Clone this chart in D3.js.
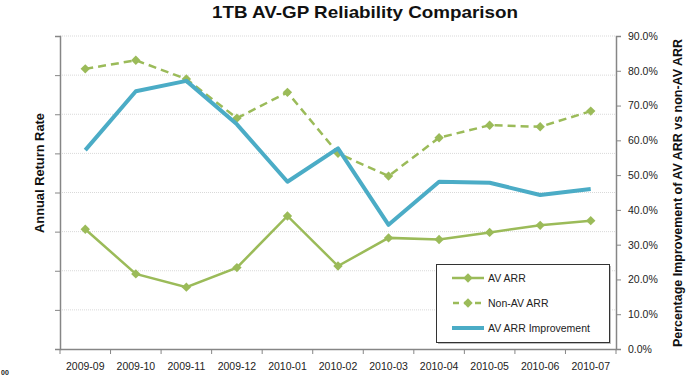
<!DOCTYPE html>
<html><head><meta charset="utf-8">
<script src="https://cdn.jsdelivr.net/npm/d3@7"></script>
<style>
body{margin:0;background:#fff;}
svg{display:block;font-family:"Liberation Sans",Arial,sans-serif;}
</style></head>
<body><svg id="c" width="690" height="377"></svg>
<script>
const categories = ["2009-09","2009-10","2009-11","2009-12","2010-01","2010-02","2010-03","2010-04","2010-05","2010-06","2010-07"];
const avArr     = [1.53,0.96,0.79,1.04,1.70,1.06,1.42,1.40,1.49,1.58,1.64];
const nonAvArr  = [3.58,3.69,3.45,2.95,3.28,2.50,2.21,2.70,2.86,2.84,3.04];
const improvement = [57.2,74.1,77.1,64.6,48.1,57.7,35.7,48.1,47.8,44.3,46.0];
const leftTicks = [0,0.5,1,1.5,2,2.5,3,3.5,4];
const rightTicks = [0,10,20,30,40,50,60,70,80,90];
const seriesNames = ["AV ARR","Non-AV ARR","AV ARR Improvement"];

const green = "#9BBB59", blue = "#4BACC6";
const svg = d3.select("#c");
const L = 60, R = 616, T = 36, B = 349;

const x = d3.scaleBand().domain(categories).range([L, R]).padding(0);
const xc = d => x(d) + x.bandwidth()/2;
const yL = d3.scaleLinear().domain([0,4]).range([B, T]);
const yR = d3.scaleLinear().domain([0,90]).range([B, T]);

// gridlines
svg.append("g").selectAll("line").data(leftTicks.slice(1)).join("line")
  .attr("x1", L).attr("x2", R).attr("y1", d=>yL(d)).attr("y2", d=>yL(d))
  .attr("stroke", "#d9d9d9").attr("stroke-width", 1).attr("stroke-dasharray", "1,1");

// left axis
const gl = svg.append("g").attr("transform", `translate(${L},0)`)
  .call(d3.axisLeft(yL).tickValues(leftTicks).tickSize(5).tickFormat(""));
gl.select(".domain").attr("stroke", "#868686").attr("stroke-width", 1.5);
gl.selectAll(".tick line").attr("stroke", "#868686");

// right axis
const gr = svg.append("g").attr("transform", `translate(${R},0)`)
  .call(d3.axisRight(yR).tickValues(rightTicks).tickSize(5).tickPadding(7).tickFormat(d => d.toFixed(1) + "%"));
gr.select(".domain").attr("stroke", "#868686").attr("stroke-width", 1.5);
gr.selectAll(".tick line").attr("stroke", "#868686");
gr.selectAll(".tick text").attr("font-size", 10.5).attr("fill", "#222").attr("font-family", "Liberation Sans, Arial, sans-serif");

// bottom axis
const gb = svg.append("g").attr("transform", `translate(0,${B})`)
  .call(d3.axisBottom(x).tickSize(0).tickPadding(14));
gb.select(".domain").attr("stroke", "#868686").attr("stroke-width", 1.5);
gb.selectAll(".tick text").attr("font-size", 10.5).attr("fill", "#222").attr("font-family", "Liberation Sans, Arial, sans-serif");
const bounds = categories.map(d => x(d)).concat([R]);
svg.append("g").selectAll("line").data(bounds).join("line")
  .attr("x1", d=>d).attr("x2", d=>d).attr("y1", B).attr("y2", B+5)
  .attr("stroke", "#868686").attr("stroke-width", 1);

// lines
const lineL = d3.line().x((d,i)=>xc(categories[i])).y(d=>yL(d));
const lineR = d3.line().x((d,i)=>xc(categories[i])).y(d=>yR(d));
const diamond = d3.symbol().type(d3.symbolSquare).size(44);

svg.append("path").datum(nonAvArr).attr("d", lineL).attr("fill","none")
  .attr("stroke", green).attr("stroke-width", 2.5).attr("stroke-dasharray","8,5");
svg.append("g").selectAll("path").data(nonAvArr).join("path")
  .attr("d", diamond).attr("fill", green)
  .attr("transform", (d,i)=>`translate(${xc(categories[i])},${yL(d)}) rotate(45)`);

svg.append("path").datum(avArr).attr("d", lineL).attr("fill","none")
  .attr("stroke", green).attr("stroke-width", 2.5);
svg.append("g").selectAll("path").data(avArr).join("path")
  .attr("d", diamond).attr("fill", green)
  .attr("transform", (d,i)=>`translate(${xc(categories[i])},${yL(d)}) rotate(45)`);

svg.append("path").datum(improvement).attr("d", lineR).attr("fill","none")
  .attr("stroke", blue).attr("stroke-width", 4).attr("stroke-linejoin","round");

// title
svg.append("text").attr("x", 365).attr("y", 18).attr("text-anchor","middle")
  .attr("font-size", 17).attr("font-weight","bold").attr("fill","#111")
  .attr("textLength", 306).attr("lengthAdjust","spacingAndGlyphs")
  .text("1TB AV-GP Reliability Comparison");

// axis titles
svg.append("text").attr("transform","translate(44,173) rotate(-90)").attr("text-anchor","middle")
  .attr("font-size", 12.5).attr("font-weight","bold").attr("fill","#111")
  .attr("textLength", 120).attr("lengthAdjust","spacingAndGlyphs")
  .text("Annual Return Rate");
svg.append("text").attr("transform","translate(682,193) rotate(-90)").attr("text-anchor","middle")
  .attr("font-size", 12.5).attr("font-weight","bold").attr("fill","#111")
  .attr("textLength", 308).attr("lengthAdjust","spacingAndGlyphs")
  .text("Percentage Improvement of AV ARR vs non-AV ARR");

// legend
const lg = svg.append("g");
lg.append("rect").attr("x", 438).attr("y", 266).attr("width", 173).attr("height", 78).attr("fill", "#bfbfbf");
lg.append("rect").attr("x", 436.5).attr("y", 264.5).attr("width", 173).attr("height", 78)
  .attr("fill", "#fff").attr("stroke", "#333").attr("stroke-width", 1);
const legY = [278, 303, 328];
seriesNames.forEach((name, i) => {
  const y = legY[i];
  const ln = lg.append("line").attr("x1", 452).attr("x2", 484).attr("y1", y).attr("y2", y)
    .attr("stroke", i===2 ? blue : green).attr("stroke-width", i===2 ? 4 : 2.5);
  if (i===1) ln.attr("stroke-dasharray", "6,5").attr("x1", 453);
  if (i<2) lg.append("path").attr("d", diamond).attr("fill", green).attr("transform", `translate(468,${y}) rotate(45)`);
  lg.append("text").attr("x", 488).attr("y", y+4).attr("font-size", 10.5).attr("fill","#222").text(name);
});

// small fragment at bottom-left
svg.append("text").attr("x", 1).attr("y", 375).attr("font-size", 7).attr("font-weight","bold").attr("fill","#222").text("00");
</script></body></html>
